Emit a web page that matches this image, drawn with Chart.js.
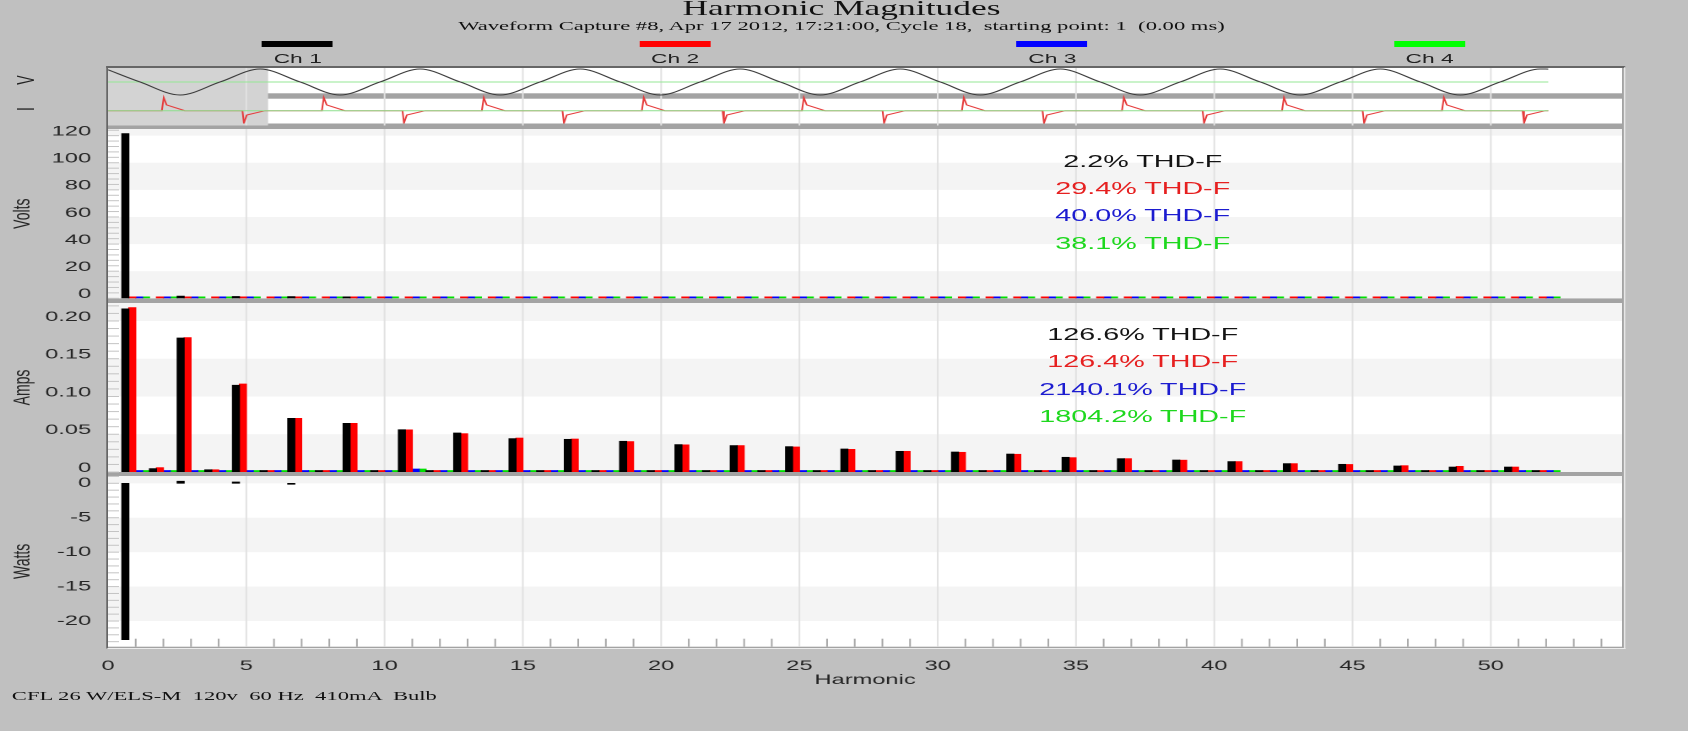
<!DOCTYPE html>
<html>
<head>
<title>Harmonic Magnitudes</title>
<script src="https://cdn.jsdelivr.net/npm/chart.js"></script>
<style>
    html, body {
        margin: 0;
        padding: 0;
        background: #c0c0c0;
        overflow: hidden;
    }
    /* the capture is laid out 1000px wide and stretched to the window */
    #page {
        position: absolute;
        left: 0;
        top: 0;
        width: 1000px;
        height: 731px;
        transform: scaleX(1.688);
        transform-origin: 0 0;
    }
    .serif {
        position: absolute;
        font-family: "Liberation Serif", "Times New Roman", serif;
        color: #111;
        white-space: pre;
    }
    #title { left: 0; width: 997px; top: -1.6px; text-align: center; font-size: 21px; line-height: 21px; }
    #subtitle { left: 0; width: 997px; top: 19px; text-align: center; font-size: 13.4px; line-height: 14px; }
    #footer { left: 7px; top: 689px; font-size: 13.4px; line-height: 14px; }
    .legbar { position: absolute; top: 40.7px; width: 42px; height: 6px; }
    .leglab {
        position: absolute;
        top: 51.5px;
        width: 80px;
        margin-left: -40px;
        text-align: center;
        font: 13.5px "Liberation Sans", Arial, sans-serif;
        line-height: 14px;
        color: #222;
    }
    #frame {
        position: absolute;
        left: 62.6px;
        top: 66px;
        width: 900px;
        height: 582.5px;
        box-sizing: border-box;
        background: #a3a3a3;
        border-left: 1.5px solid #666;
        border-top: 2px solid #666;
        border-right: 1.5px solid #e6e6e6;
        border-bottom: 1.8px solid #ececec;
    }
    canvas { position: absolute; left: 0; }
    .thd {
        position: absolute;
        left: 527px;
        width: 300px;
        text-align: center;
        font: 17px "Liberation Sans", Arial, sans-serif;
        line-height: 17px;
        white-space: pre;
    }
    .rot {
        position: absolute;
        font: 14px "Liberation Sans", Arial, sans-serif;
        line-height: 14px;
        color: #222;
        transform: translate(-50%, -50%) rotate(-90deg);
    }
</style>
</head>
<body>
<div id="page">
    <div id="title" class="serif">Harmonic Magnitudes</div>
    <div id="subtitle" class="serif">Waveform Capture #8, Apr 17 2012, 17:21:00, Cycle 18,  starting point: 1  (0.00 ms)</div>
    <div id="legend"></div>

    <div id="frame"></div>
    <canvas id="waveChart" width="961" height="58" style="top:68px"></canvas>
    <canvas id="voltsChart" width="961" height="194" style="top:117px"></canvas>
    <canvas id="ampsChart" width="961" height="193" style="top:290.7px"></canvas>
    <canvas id="wattsChart" width="961" height="228" style="top:464px"></canvas>

    <div class="rot" style="left:15px; top:80px">V</div>
    <div class="rot" style="left:15px; top:109px">I</div>
    <div id="thd"></div>

    <div id="footer" class="serif">CFL 26 W/ELS-M  120v  60 Hz  410mA  Bulb</div>
</div>

<script>
    const channelNames = ['Ch 1', 'Ch 2', 'Ch 3', 'Ch 4'];
    const channelColors = ['#000000', '#ff0000', '#0000ff', '#00e000'];
    const legendColors = ['#000000', '#ff0000', '#0000ff', '#00ff00'];
    const thdColors = ['#141414', '#e62020', '#1c1cd0', '#1ed81e'];

    const harmonics = [1, 2, 3, 4, 5, 6, 7, 8, 9, 10, 11, 12, 13, 14, 15, 16, 17, 18, 19, 20,
        21, 22, 23, 24, 25, 26, 27, 28, 29, 30, 31, 32, 33, 34, 35, 36, 37, 38, 39, 40,
        41, 42, 43, 44, 45, 46, 47, 48, 49, 50, 51, 52];

    const voltsCh1 = [121.5, null, 1.6, null, 1.4, null, 1.3, null, 1.0];
    const voltsCh2 = [0.3, 0.3, 0.3, 0.3, 0.3, 0.3, 0.3, 0.3, 0.3, 0.3, 0.3, 0.3, 0.3, 0.3, 0.3, 0.3, 0.3, 0.3, 0.3, 0.3,
        0.3, 0.3, 0.3, 0.3, 0.3, 0.3, 0.3, 0.3, 0.3, 0.3, 0.3, 0.3, 0.3, 0.3, 0.3, 0.3, 0.3, 0.3, 0.3, 0.3,
        0.3, 0.3, 0.3, 0.3, 0.3, 0.3, 0.3, 0.3, 0.3, 0.3, 0.3, 0.3];
    const voltsCh3 = [0.3, 0.3, 0.3, 0.3, 0.3, 0.3, 0.3, 0.3, 0.3, 0.3, 0.3, 0.3, 0.3, 0.3, 0.3, 0.3, 0.3, 0.3, 0.3, 0.3,
        0.3, 0.3, 0.3, 0.3, 0.3, 0.3, 0.3, 0.3, 0.3, 0.3, 0.3, 0.3, 0.3, 0.3, 0.3, 0.3, 0.3, 0.3, 0.3, 0.3,
        0.3, 0.3, 0.3, 0.3, 0.3, 0.3, 0.3, 0.3, 0.3, 0.3, 0.3, 0.3];
    const voltsCh4 = [0.3, 0.3, 0.3, 0.3, 0.3, 0.3, 0.3, 0.3, 0.3, 0.3, 0.3, 0.3, 0.3, 0.3, 0.3, 0.3, 0.3, 0.3, 0.3, 0.3,
        0.3, 0.3, 0.3, 0.3, 0.3, 0.3, 0.3, 0.3, 0.3, 0.3, 0.3, 0.3, 0.3, 0.3, 0.3, 0.3, 0.3, 0.3, 0.3, 0.3,
        0.3, 0.3, 0.3, 0.3, 0.3, 0.3, 0.3, 0.3, 0.3, 0.3, 0.3, 0.3];

    const ampsCh1 = [0.216, 0.0045, 0.1775, 0.003, 0.115, 0.002, 0.071, 0.002, 0.0645, 0.002,
        0.056, 0.002, 0.0517, 0.002, 0.0442, 0.002, 0.0433, 0.002, 0.0407, 0.002,
        0.0363, 0.002, 0.035, 0.002, 0.0336, 0.002, 0.0305, 0.002, 0.0274, 0.002,
        0.0265, 0.002, 0.0238, 0.002, 0.0195, 0.002, 0.0177, 0.002, 0.0159, 0.002,
        0.0138, 0.002, 0.0111, 0.002, 0.0102, 0.002, 0.008, 0.002, 0.0066, 0.002,
        0.0066, 0.002];
    const ampsCh2 = [0.2177, 0.0058, 0.178, 0.003, 0.1166, 0.002, 0.071, 0.002, 0.0645, 0.002,
        0.0558, 0.002, 0.0508, 0.002, 0.045, 0.002, 0.0437, 0.002, 0.0403, 0.002,
        0.036, 0.002, 0.035, 0.002, 0.0332, 0.002, 0.030, 0.002, 0.0274, 0.002,
        0.0261, 0.002, 0.0235, 0.002, 0.019, 0.002, 0.0177, 0.002, 0.0157, 0.002,
        0.0138, 0.002, 0.0111, 0.002, 0.010, 0.002, 0.0084, 0.002, 0.0075, 0.002,
        0.0066, 0.002];
    const ampsCh3 = [0.0008, 0.0008, 0.0008, 0.0008, 0.0008, 0.0008, 0.0008, 0.0008, 0.002, 0.0015,
        0.004, 0.0008, 0.0008, 0.0008, 0.0008, 0.0008, 0.0008, 0.0008, 0.0008, 0.0008,
        0.0008, 0.0008, 0.0008, 0.0008, 0.0008, 0.0008, 0.0008, 0.0008, 0.0008, 0.0008,
        0.0008, 0.0008, 0.0008, 0.0008, 0.0008, 0.0008, 0.0008, 0.0008, 0.0008, 0.0008,
        0.0008, 0.0008, 0.0008, 0.0008, 0.0008, 0.0008, 0.0008, 0.0008, 0.0008, 0.0008,
        0.0008, 0.0008];
    const ampsCh4 = [0.0008, 0.0008, 0.0008, 0.0008, 0.0008, 0.0008, 0.0008, 0.0008, 0.002, 0.001,
        0.004, 0.0008, 0.0008, 0.0008, 0.0008, 0.0008, 0.0008, 0.0008, 0.0008, 0.0008,
        0.0008, 0.0008, 0.0008, 0.0008, 0.0008, 0.0008, 0.0008, 0.0008, 0.0008, 0.0008,
        0.0008, 0.0008, 0.0008, 0.0008, 0.0008, 0.0008, 0.0008, 0.0008, 0.0008, 0.0008,
        0.0008, 0.0008, 0.0008, 0.0008, 0.0008, 0.0008, 0.0008, 0.0008, 0.0008, 0.0008,
        0.0008, 0.0008];

    const wattsCh1 = [-22.7, null, 0.3, null, 0.2, null, -0.1];
    const wattsCh2 = [];
    const wattsCh3 = [];
    const wattsCh4 = [];

    const thdVolts = ['2.2', '29.4', '40.0', '38.1'];
    const thdAmps = ['126.6', '126.4', '2140.1', '1804.2'];

    // waveform strip, time in ms
    const waveTimeV = [0, 3.33, 7.5, 11.67, 15.83, 20, 24.17, 28.33, 32.5, 36.67, 40.83, 45, 49.17,
        53.33, 57.5, 61.67, 65.83, 70, 74.17, 78.33, 82.5, 86.67, 90.83, 95, 99.17, 103.33,
        107.5, 111.67, 115.83, 120, 124.17, 128.33, 132.5, 136.67, 140.83, 145, 149.17, 150];
    const waveVolts = [160, 0, -170, 0, 170, 0, -170, 0, 170, 0, -170, 0, 170,
        0, -170, 0, 170, 0, -170, 0, 170, 0, -170, 0, 170, 0,
        -170, 0, 170, 0, -170, 0, 170, 0, -170, 0, 170, 169];
    const waveTimeI = [0,
        5.6, 5.8, 6.1, 8.0, 14.0, 14.15, 14.45, 16.35,
        22.27, 22.47, 22.77, 24.67, 30.67, 30.82, 31.12, 33.02,
        38.93, 39.13, 39.43, 41.33, 47.33, 47.48, 47.78, 49.68,
        55.6, 55.8, 56.1, 58.0, 64.0, 64.15, 64.45, 66.35,
        72.27, 72.47, 72.77, 74.67, 80.67, 80.82, 81.12, 83.02,
        88.93, 89.13, 89.43, 91.33, 97.33, 97.48, 97.78, 99.68,
        105.6, 105.8, 106.1, 108.0, 114.0, 114.15, 114.45, 116.35,
        122.27, 122.47, 122.77, 124.67, 130.67, 130.82, 131.12, 133.02,
        138.93, 139.13, 139.43, 141.33, 147.33, 147.48, 147.78, 149.68,
        150];
    const waveAmps = [0,
        0, 0.9, 0.4, 0, 0, -0.86, -0.3, 0,
        0, 0.9, 0.4, 0, 0, -0.86, -0.3, 0,
        0, 0.9, 0.4, 0, 0, -0.86, -0.3, 0,
        0, 0.9, 0.4, 0, 0, -0.86, -0.3, 0,
        0, 0.9, 0.4, 0, 0, -0.86, -0.3, 0,
        0, 0.9, 0.4, 0, 0, -0.86, -0.3, 0,
        0, 0.9, 0.4, 0, 0, -0.86, -0.3, 0,
        0, 0.9, 0.4, 0, 0, -0.86, -0.3, 0,
        0, 0.9, 0.4, 0, 0, -0.86, -0.3, 0,
        0];
    const flatTime = [0, 150];
    const flatZero = [0, 0];
    const selectedCycle = [0, 16.67];

    // axis ranges
    const X_MAX = 54.75;
    const WAVE_T_MAX = 157.7;
    const WAVE_V_RANGE = [-543, 183];
    const WAVE_I_RANGE = [-0.886, 2.955];
    const VOLTS_RANGE = [0, 124.9];
    const AMPS_RANGE = [0, 0.2238];
    const WATTS_RANGE = [-23.73, 1.06];

    const TEXT = '#262626';
    const FONT = { family: '"Liberation Sans", Arial, sans-serif', size: 14 };
    Chart.defaults.font.family = FONT.family;

    // ---- header / labels ----
    const legend = document.getElementById('legend');
    channelNames.forEach((name, i) => {
        const cx = 176.4 + i * 223.5;
        legend.innerHTML += `<div class="legbar" style="left:${cx - 21}px;background:${legendColors[i]}"></div>`
            + `<div class="leglab" style="left:${cx}px">${name}</div>`;
    });
    const thd = document.getElementById('thd');
    thdVolts.forEach((v, i) => {
        thd.innerHTML += `<div class="thd" style="top:${152.5 + i * 27.4}px;color:${thdColors[i]}">${v}% THD-F</div>`;
    });
    thdAmps.forEach((v, i) => {
        thd.innerHTML += `<div class="thd" style="top:${325.7 + i * 27.5}px;color:${thdColors[i]}">${v}% THD-F</div>`;
    });

    // white plot area, shaded bands, grid, minor ticks, cycle selection
    const panelBackground = {
        id: 'panelBackground',
        beforeDraw(chart, args, opts) {
            const { ctx, chartArea: a } = chart;
            const w = a.right - a.left;
            ctx.save();
            ctx.fillStyle = '#ffffff';
            ctx.fillRect(a.left, a.top, w, a.bottom - a.top);

            const ys = chart.scales.y;
            if (opts.bands && ys) {
                const px = ys.ticks.map(t => ys.getPixelForValue(t.value)).sort((p, q) => p - q);
                const edges = [a.top, ...px, a.bottom];
                ctx.fillStyle = '#f4f4f4';
                for (let i = 0; i < edges.length - 1; i += 2) {
                    ctx.fillRect(a.left, edges[i], w, edges[i + 1] - edges[i]);
                }
            }
            if (opts.separator) {
                ctx.fillStyle = '#a3a3a3';
                ctx.fillRect(a.left, a.top + opts.separator[0], w, opts.separator[1] - opts.separator[0]);
            }
            if (opts.selection) {
                const xs = chart.scales.x;
                const x0 = xs.getPixelForValue(opts.selection[0]);
                const x1 = xs.getPixelForValue(opts.selection[1]);
                ctx.fillStyle = '#d3d3d3';
                ctx.fillRect(x0, a.top, x1 - x0, a.bottom - a.top + 2);
            }

            const hs = chart.scales[opts.harmonicAxis || 'x'];
            ctx.strokeStyle = '#e2e2e2';
            ctx.lineWidth = 1;
            for (let h = 5; h < hs.max; h += 5) {
                const x = hs.getPixelForValue(h);
                ctx.beginPath();
                ctx.moveTo(x, a.top);
                ctx.lineTo(x, opts.selection ? a.bottom + 2 : a.bottom);
                ctx.stroke();
            }

            if (opts.minorStep && ys) {
                ctx.strokeStyle = '#c4c4c4';
                for (let v = Math.ceil(ys.min / opts.minorStep) * opts.minorStep; v <= ys.max; v += opts.minorStep) {
                    const y = ys.getPixelForValue(v);
                    ctx.beginPath();
                    ctx.moveTo(a.left, y);
                    ctx.lineTo(a.left + 6.5, y);
                    ctx.stroke();
                }
            }
            if (opts.xMinor) {
                ctx.strokeStyle = '#a8a8a8';
                for (let h = 1; h < hs.max; h++) {
                    if (h % 5 === 0) continue;
                    const x = hs.getPixelForValue(h);
                    ctx.beginPath();
                    ctx.moveTo(x, a.bottom - 8);
                    ctx.lineTo(x, a.bottom);
                    ctx.stroke();
                }
            }
            ctx.restore();
        }
    };

    const zip = (xs, ys) => xs.map((x, i) => ({ x: x, y: ys[i] }));

    // ---- waveform strip (first dataset is drawn on top) ----
    new Chart(document.getElementById('waveChart'), {
        type: 'line',
        data: {
            datasets: [
                { data: zip(waveTimeV, waveVolts), yAxisID: 'yV', borderColor: '#3a3a3a', borderWidth: 1,
                  pointRadius: 0, cubicInterpolationMode: 'monotone' },
                { data: zip(flatTime, flatZero), yAxisID: 'yV', borderColor: '#96e896', borderWidth: 1, pointRadius: 0 },
                { data: zip(flatTime, flatZero), yAxisID: 'yI', borderColor: '#8ee08e', borderWidth: 1, pointRadius: 0 },
                { data: zip(waveTimeI, waveAmps), yAxisID: 'yI', borderColor: '#e63c3c', borderWidth: 1,
                  pointRadius: 0, tension: 0 }
            ]
        },
        options: {
            responsive: false,
            animation: false,
            devicePixelRatio: 2,
            layout: { padding: { left: 64, right: 0, top: 0, bottom: 2.5 } },
            scales: {
                x: { type: 'linear', display: false, min: 0, max: WAVE_T_MAX },
                xh: { type: 'linear', display: false, min: 0, max: X_MAX },
                yV: { display: false, min: WAVE_V_RANGE[0], max: WAVE_V_RANGE[1] },
                yI: { display: false, min: WAVE_I_RANGE[0], max: WAVE_I_RANGE[1] }
            },
            plugins: {
                legend: { display: false },
                tooltip: { enabled: false },
                panelBackground: { harmonicAxis: 'xh', selection: selectedCycle, separator: [25.3, 30.7] }
            }
        },
        plugins: [panelBackground]
    });

    // ---- harmonic bar panels ----
    function harmonicPanel(id, series, range, step, title, opt) {
        return new Chart(document.getElementById(id), {
            type: 'bar',
            data: {
                labels: harmonics,
                datasets: series.map((values, i) => ({
                    label: channelNames[i],
                    data: values,
                    backgroundColor: channelColors[i],
                    borderWidth: 0,
                    minBarLength: opt.minBar,
                    barPercentage: 1,
                    categoryPercentage: 1
                }))
            },
            options: {
                responsive: false,
                animation: false,
                devicePixelRatio: 2,
                layout: { padding: { top: 12, bottom: opt.padBottom, left: 0, right: 0 } },
                scales: {
                    x: {
                        type: 'linear',
                        min: 0,
                        max: X_MAX,
                        offset: false,
                        display: !!opt.showX,
                        grid: { display: false, offset: false, drawTicks: false },
                        border: { display: false },
                        ticks: { stepSize: 5, includeBounds: false, padding: 11, color: TEXT, font: FONT },
                        title: { display: true, text: 'Harmonic', color: TEXT, font: FONT, padding: { top: 0, bottom: 3.6 } },
                        afterFit: s => { s.height = opt.showX ? 45.3 : 0; }
                    },
                    y: {
                        min: range[0],
                        max: range[1],
                        grid: { display: false, drawTicks: false },
                        border: { display: false },
                        ticks: Object.assign({ stepSize: step, includeBounds: false, autoSkip: false, padding: 10,
                            labelOffset: opt.labelOffset, color: TEXT, font: FONT },
                            opt.format ? { callback: opt.format } : {}),
                        title: { display: true, text: title, color: TEXT, font: FONT, padding: { top: 5.2, bottom: 0 } },
                        afterFit: s => { s.width = 64; s.paddingTop = 0; s.paddingBottom = 0; }
                    }
                },
                plugins: {
                    legend: { display: false },
                    tooltip: { enabled: false },
                    panelBackground: { bands: true, minorStep: step / 5, xMinor: !!opt.showX }
                }
            },
            plugins: [panelBackground]
        });
    }

    harmonicPanel('voltsChart', [voltsCh1, voltsCh2, voltsCh3, voltsCh4], VOLTS_RANGE, 20, 'Volts',
        { minBar: 1.5, padBottom: 12.7, labelOffset: -4 });
    harmonicPanel('ampsChart', [ampsCh1, ampsCh2, ampsCh3, ampsCh4], AMPS_RANGE, 0.05, 'Amps',
        { minBar: 1.5, padBottom: 12, labelOffset: -4, format: v => (v === 0 ? '0' : v.toFixed(2)) });
    harmonicPanel('wattsChart', [wattsCh1, wattsCh2, wattsCh3, wattsCh4], WATTS_RANGE, 5, 'Watts',
        { minBar: 1, padBottom: 0, labelOffset: 0, showX: true });
</script>
</body>
</html>
